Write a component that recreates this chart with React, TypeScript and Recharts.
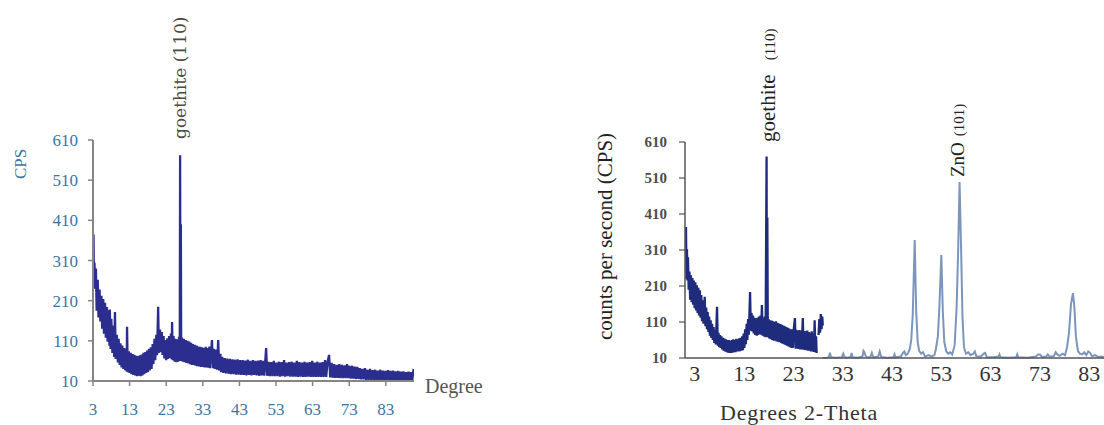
import { LineChart, Line, XAxis, YAxis, ReferenceLine } from 'recharts';

const cpsTicks = [10, 110, 210, 310, 410, 510, 610];
const degreeTicks = [3, 13, 23, 33, 43, 53, 63, 73, 83];

// goethite sample, left panel: [degree, cps]
const leftScan: [number, number][] = [
  [3.15, 375], [3.25, 250], [3.4, 305], [3.6, 240], [3.8, 290], [4.0, 185], [4.3, 262], [4.5, 168],
  [4.8, 238], [5.0, 158], [5.3, 222], [5.5, 140], [5.8, 214], [6.0, 128], [6.3, 205], [6.5, 118],
  [6.8, 194], [7.0, 108], [7.3, 186], [7.5, 98], [7.6, 188], [7.8, 90], [8.0, 165], [8.3, 80],
  [8.5, 148], [8.8, 70], [9.0, 182], [9.2, 65], [9.5, 125], [9.8, 56], [10.0, 115], [10.3, 50],
  [10.5, 104], [10.8, 44], [11.0, 98], [11.3, 40], [11.5, 92], [11.8, 37], [12.0, 90], [12.2, 34],
  [12.3, 145], [12.5, 32], [12.8, 84], [13.0, 30], [13.3, 80], [13.5, 27], [13.8, 77], [14.0, 25],
  [14.3, 75], [14.5, 24], [14.8, 73], [15.0, 22], [15.3, 72], [15.5, 23], [15.8, 74], [16.0, 22],
  [16.3, 76], [16.5, 24], [16.8, 80], [17.0, 27], [17.3, 82], [17.5, 30], [17.8, 86], [18.0, 32],
  [18.3, 90], [18.5, 36], [18.8, 94], [19.0, 40], [19.3, 102], [19.5, 52], [19.8, 115], [20.0, 62],
  [20.3, 125], [20.5, 74], [20.8, 195], [21.0, 80], [21.3, 138], [21.5, 82], [21.8, 132], [22.0, 75],
  [22.3, 122], [22.5, 66], [22.8, 112], [23.0, 62], [23.3, 116], [23.5, 65], [23.8, 122], [24.0, 67],
  [24.3, 128], [24.5, 64], [24.6, 157], [24.8, 62], [25.0, 122], [25.3, 58], [25.5, 115], [25.8, 57],
  [26.0, 114], [26.3, 58], [26.5, 120], [26.7, 60], [26.8, 572], [26.9, 60], [27.0, 400], [27.1, 62],
  [27.3, 118], [27.5, 58], [27.8, 115], [28.0, 57], [28.3, 112], [28.5, 55], [28.8, 110], [29.0, 54],
  [29.3, 108], [29.5, 52], [29.8, 105], [30.0, 50], [30.3, 102], [30.5, 50], [30.8, 100], [31.0, 48],
  [31.3, 98], [31.5, 47], [31.8, 96], [32.0, 46], [32.3, 95], [32.5, 45], [32.8, 94], [33.0, 45],
  [33.3, 92], [33.5, 44], [33.8, 95], [34.0, 44], [34.3, 92], [34.5, 43], [34.8, 96], [35.0, 42],
  [35.5, 112], [35.8, 42], [36.0, 90], [36.3, 40], [36.6, 88], [36.9, 38], [37.2, 112], [37.5, 36],
  [37.8, 78], [38.0, 32], [38.3, 70], [38.6, 30], [39.0, 67], [39.3, 29], [39.7, 66], [40.0, 28],
  [40.4, 65], [40.7, 27], [41.1, 64], [41.4, 27], [41.8, 63], [42.1, 26], [42.5, 64], [42.8, 26],
  [43.2, 62], [43.5, 25], [43.9, 62], [44.2, 25], [44.6, 61], [44.9, 24], [45.3, 63], [45.6, 25],
  [46.0, 60], [46.3, 24], [46.7, 62], [47.0, 25], [47.4, 60], [47.7, 24], [48.1, 61], [48.4, 23],
  [48.8, 62], [49.1, 24], [49.5, 60], [49.8, 23], [50.3, 92], [50.6, 23], [51.0, 58], [51.3, 22],
  [51.7, 57], [52.0, 22], [52.4, 60], [52.7, 22], [53.1, 56], [53.4, 22], [53.8, 58], [54.1, 21],
  [54.5, 57], [54.8, 22], [55.2, 62], [55.5, 21], [55.9, 56], [56.2, 22], [56.6, 57], [56.9, 21],
  [57.3, 58], [57.6, 21], [58.0, 56], [58.3, 21], [58.7, 60], [59.0, 20], [59.4, 57], [59.7, 21],
  [60.1, 56], [60.4, 20], [60.8, 58], [61.1, 20], [61.5, 56], [61.8, 21], [62.2, 57], [62.5, 20],
  [62.9, 60], [63.2, 20], [63.6, 56], [63.9, 20], [64.3, 58], [64.6, 20], [65.0, 56], [65.3, 20],
  [65.7, 57], [66.0, 20], [66.4, 62], [66.7, 20], [67.1, 58], [67.5, 75], [67.8, 19], [68.2, 55],
  [68.5, 18], [68.9, 52], [69.2, 18], [69.6, 50], [69.9, 18], [70.3, 52], [70.6, 17], [71.0, 50],
  [71.3, 17], [71.7, 49], [72.0, 17], [72.4, 52], [72.7, 17], [73.1, 48], [73.4, 16], [73.8, 48],
  [74.1, 16], [74.5, 46], [74.8, 15], [75.2, 45], [75.5, 15], [75.9, 42], [76.2, 14], [76.6, 40],
  [76.9, 14], [77.3, 42], [77.6, 13], [78.0, 38], [78.3, 13], [78.7, 40], [79.0, 13], [79.4, 37],
  [79.7, 12], [80.1, 38], [80.4, 12], [80.8, 36], [81.1, 12], [81.5, 38], [81.8, 12], [82.2, 36],
  [82.5, 12], [82.9, 35], [83.2, 12], [83.6, 37], [83.9, 12], [84.3, 35], [84.6, 11], [85.0, 36],
  [85.3, 11], [85.7, 34], [86.0, 11], [86.4, 35], [86.7, 11], [87.1, 33], [87.4, 11], [87.8, 34],
  [88.1, 11], [88.5, 32], [88.8, 11], [89.2, 33], [89.5, 11], [89.9, 32], [90.2, 11], [90.6, 40],
];

// goethite sample as drawn in the right panel
const rightScan: [number, number | null][] = [
  [1.2, 374], [1.3, 230], [1.4, 312], [1.5, 225], [1.6, 290], [1.75, 200], [1.9, 250], [2.05, 172],
  [2.2, 240], [2.35, 165], [2.5, 232], [2.65, 158], [2.8, 225], [2.95, 148], [3.1, 220], [3.25, 142],
  [3.4, 212], [3.55, 135], [3.7, 205], [3.85, 128], [4.0, 198], [4.15, 122], [4.3, 185], [4.45, 112],
  [4.6, 170], [4.75, 105], [5.0, 180], [5.15, 98], [5.3, 150], [5.45, 90], [5.6, 138], [5.75, 82],
  [5.9, 125], [6.05, 72], [6.2, 115], [6.35, 66], [6.5, 105], [6.65, 60], [6.8, 96], [6.95, 52],
  [7.1, 88], [7.25, 48], [7.5, 152], [7.65, 44], [7.8, 80], [7.95, 40], [8.1, 74], [8.25, 38],
  [8.4, 70], [8.55, 34], [8.7, 66], [8.85, 30], [9.0, 64], [9.15, 28], [9.3, 62], [9.45, 26],
  [9.6, 60], [9.75, 25], [9.9, 60], [10.05, 24], [10.2, 58], [10.35, 24], [10.5, 60], [10.65, 25],
  [10.8, 62], [10.95, 26], [11.1, 60], [11.25, 26], [11.4, 63], [11.55, 28], [11.7, 62], [11.85, 28],
  [12.0, 65], [12.15, 29], [12.3, 66], [12.45, 30], [12.6, 70], [12.75, 32], [12.9, 78], [13.05, 38],
  [13.2, 90], [13.35, 48], [13.5, 105], [13.65, 60], [13.8, 118], [13.95, 75], [14.2, 193], [14.35, 86],
  [14.5, 135], [14.65, 84], [14.8, 128], [14.95, 78], [15.1, 122], [15.25, 74], [15.4, 120], [15.55, 72],
  [15.7, 122], [15.85, 74], [16.0, 125], [16.15, 76], [16.3, 128], [16.45, 75], [16.6, 157], [16.75, 72],
  [16.9, 122], [17.05, 70], [17.2, 125], [17.35, 68], [17.55, 570], [17.6, 70], [17.7, 400], [17.8, 68],
  [17.95, 118], [18.1, 64], [18.25, 115], [18.4, 62], [18.55, 114], [18.7, 60], [18.85, 112], [19.0, 58],
  [19.15, 110], [19.3, 58], [19.45, 112], [19.6, 56], [19.75, 108], [19.9, 55], [20.05, 106], [20.2, 54],
  [20.35, 104], [20.5, 52], [20.65, 102], [20.8, 50], [20.95, 100], [21.1, 48], [21.25, 98], [21.4, 46],
  [21.55, 96], [21.7, 44], [21.85, 94], [22.0, 42], [22.15, 92], [22.3, 40], [22.45, 90], [22.6, 38],
  [22.75, 90], [22.9, 38], [23.05, 88], [23.3, 121], [23.45, 36], [23.6, 88], [23.75, 36], [23.9, 86],
  [24.05, 35], [24.2, 88], [24.35, 34], [24.5, 86], [24.65, 34], [24.9, 121], [25.05, 33], [25.2, 85],
  [25.35, 32], [25.5, 84], [25.65, 32], [25.8, 86], [25.95, 30], [26.1, 82], [26.25, 30], [26.4, 80],
  [26.55, 28], [26.7, 84], [26.85, 28], [27.0, 78], [27.15, 27], [27.3, 115], [27.45, 26], [27.6, 70],
  [27.7, 24], [27.9, null], [28.1, 74], [28.25, 118], [28.4, 80], [28.55, 132], [28.7, 90], [28.85, 125],
  [28.95, 100],
];

// ZnO pattern, right panel
const zincOxideScan: [number, number][] = [
  [28.9, 10], [29.8, 11], [30.2, 12], [30.4, 25], [30.6, 12], [31.5, 11], [32.8, 12], [33.1, 22],
  [33.4, 12], [34.0, 11], [34.6, 13], [34.8, 24], [35.0, 12], [36.0, 11], [37.0, 14], [37.2, 30],
  [37.4, 26], [37.7, 13], [38.6, 12], [38.9, 24], [39.2, 12], [40.2, 14], [40.5, 28], [40.8, 13],
  [42.0, 11], [43.3, 12], [43.5, 20], [43.7, 12], [44.8, 14], [45.2, 24], [45.5, 28], [45.8, 18],
  [46.2, 22], [46.6, 35], [46.9, 60], [47.2, 130], [47.6, 338], [47.9, 140], [48.2, 55], [48.5, 30],
  [48.9, 22], [49.3, 26], [49.7, 14], [50.4, 18], [51.0, 14], [51.6, 18], [51.9, 35], [52.3, 70],
  [52.6, 150], [53.0, 296], [53.3, 140], [53.6, 55], [54.0, 28], [54.4, 22], [54.8, 26], [55.2, 20],
  [55.7, 45], [56.1, 150], [56.4, 300], [56.7, 499], [57.0, 320], [57.3, 120], [57.6, 40], [58.0, 22],
  [58.5, 26], [58.9, 18], [59.5, 22], [59.8, 28], [60.1, 15], [61.0, 14], [61.6, 22], [61.9, 24],
  [62.2, 13], [63.5, 12], [64.6, 14], [64.8, 20], [65.0, 12], [66.5, 11], [68.2, 12], [68.4, 20],
  [68.6, 12], [70.5, 11], [72.2, 14], [72.6, 20], [73.0, 20], [73.4, 13], [74.3, 14], [74.6, 20],
  [74.9, 14], [75.8, 15], [76.2, 26], [76.5, 20], [77.0, 16], [77.6, 22], [78.1, 18], [78.5, 40],
  [78.9, 80], [79.3, 160], [79.7, 190], [80.0, 150], [80.3, 70], [80.7, 30], [81.1, 22], [81.6, 20],
  [82.0, 26], [82.4, 18], [82.8, 28], [83.2, 24], [83.6, 15], [84.2, 18], [84.8, 13], [85.5, 14],
  [86.0, 12],
];

const toPoints = (scan: [number, number | null][]) => scan.map(([x, y]) => ({ x, y }));

const serif = '"Liberation Serif", "Times New Roman", serif';

function RotatedText({ viewBox, dx = 0, dy = 0, parts, fill, fontFamily = serif }: any) {
  const x = (viewBox?.x ?? 0) + dx;
  const y = (viewBox?.y ?? 0) + dy;
  return (
    <text x={x} y={y} transform={`rotate(-90 ${x} ${y})`} textAnchor="start" fill={fill} fontFamily={fontFamily}>
      {parts.map((p: any, i: number) => (
        <tspan key={i} fontSize={p.size} dx={p.gap ?? 0}>
          {p.text}
        </tspan>
      ))}
    </text>
  );
}

function PlainText({ viewBox, dx = 0, dy = 0, text, size, fill, spacing = 0 }: any) {
  return (
    <text
      x={(viewBox?.x ?? 0) + dx}
      y={(viewBox?.y ?? 0) + dy}
      fontSize={size}
      fill={fill}
      fontFamily={serif}
      letterSpacing={spacing}
    >
      {text}
    </text>
  );
}

function LeftPanel() {
  const tickColor = '#3b76a4';
  return (
    <LineChart width={500} height={425} margin={{ top: 140, right: 86, bottom: 14, left: 33 }}>
      <XAxis
        type="number"
        dataKey="x"
        domain={[3, 90.7]}
        ticks={degreeTicks}
        allowDataOverflow
        height={30}
        tickSize={5}
        tickMargin={17}
        axisLine={{ stroke: '#858585', strokeWidth: 2 }}
        tickLine={{ stroke: '#858585', strokeWidth: 1.5 }}
        tick={{ fill: tickColor, fontSize: 17, fontFamily: serif }}
        label={<PlainText dx={332} dy={12} text="Degree" size={20} fill="#555" />}
      />
      <YAxis
        type="number"
        domain={[10, 610]}
        ticks={cpsTicks}
        width={60}
        tickSize={5}
        tickMargin={10}
        axisLine={{ stroke: '#858585', strokeWidth: 2 }}
        tickLine={{ stroke: '#858585', strokeWidth: 1.5 }}
        tick={{ fill: tickColor, fontSize: 17, fontFamily: serif }}
        label={<RotatedText dx={-7} dy={39} parts={[{ text: 'CPS', size: 17 }]} fill={tickColor} />}
      />
      <ReferenceLine
        x={26.8}
        stroke="none"
        ifOverflow="visible"
        label={
          <RotatedText
            dx={6}
            dy={-1}
            parts={[{ text: 'goethite (110)', size: 17 }]}
            fill="#4d4a42"
            fontFamily='"DejaVu Serif", serif'
          />
        }
      />
      <Line
        data={toPoints(leftScan)}
        dataKey="y"
        type="linear"
        stroke="#2b2e8f"
        strokeWidth={2.3}
        dot={false}
        isAnimationActive={false}
      />
    </LineChart>
  );
}

function RightPanel() {
  return (
    <LineChart width={524} height={425} margin={{ top: 142, right: 0, bottom: 37, left: 45 }}>
      <XAxis
        type="number"
        dataKey="x"
        domain={[1, 86]}
        ticks={degreeTicks}
        allowDataOverflow
        height={30}
        tickSize={0}
        tickMargin={7}
        tickLine={false}
        axisLine={{ stroke: '#555', strokeWidth: 1.5 }}
        tick={{ fill: '#333', fontSize: 22, fontFamily: serif }}
        label={<PlainText dx={35} dy={62} text="Degrees 2-Theta" size={22} fill="#333" spacing={0.8} />}
      />
      <YAxis
        type="number"
        domain={[10, 610]}
        ticks={cpsTicks}
        width={60}
        tickSize={6}
        tickMargin={12}
        axisLine={{ stroke: '#555', strokeWidth: 1.5 }}
        tickLine={{ stroke: '#555', strokeWidth: 1.2 }}
        tick={{ fill: '#4d4d4d', fontSize: 15, fontWeight: 'bold', fontFamily: serif }}
        label={
          <RotatedText
            dx={-13}
            dy={198}
            parts={[{ text: 'counts per second (CPS)', size: 21 }]}
            fill="#222"
          />
        }
      />
      <ReferenceLine
        x={17.55}
        stroke="none"
        ifOverflow="visible"
        label={
          <RotatedText
            dx={8}
            dy={0}
            parts={[
              { text: 'goethite', size: 21 },
              { text: '(110)', size: 15, gap: 14 },
            ]}
            fill="#222"
          />
        }
      />
      <ReferenceLine
        x={56.7}
        stroke="none"
        ifOverflow="visible"
        label={
          <RotatedText
            dx={4}
            dy={35}
            parts={[
              { text: 'ZnO', size: 19 },
              { text: '(101)', size: 15, gap: 6 },
            ]}
            fill="#222"
          />
        }
      />
      <Line
        data={toPoints(zincOxideScan)}
        dataKey="y"
        type="linear"
        stroke="#7c95bd"
        strokeWidth={2}
        dot={false}
        isAnimationActive={false}
      />
      <Line
        data={toPoints(rightScan)}
        dataKey="y"
        type="linear"
        stroke="#1f2b7d"
        strokeWidth={2.3}
        dot={false}
        connectNulls={false}
        isAnimationActive={false}
      />
    </LineChart>
  );
}

export default function App() {
  return (
    <div style={{ position: 'absolute', left: 0, top: 0, width: 1104, height: 425, background: '#fff' }}>
      <div style={{ position: 'absolute', left: 0, top: 0 }}>
        <LeftPanel />
      </div>
      <div style={{ position: 'absolute', left: 580, top: 0 }}>
        <RightPanel />
      </div>
    </div>
  );
}
